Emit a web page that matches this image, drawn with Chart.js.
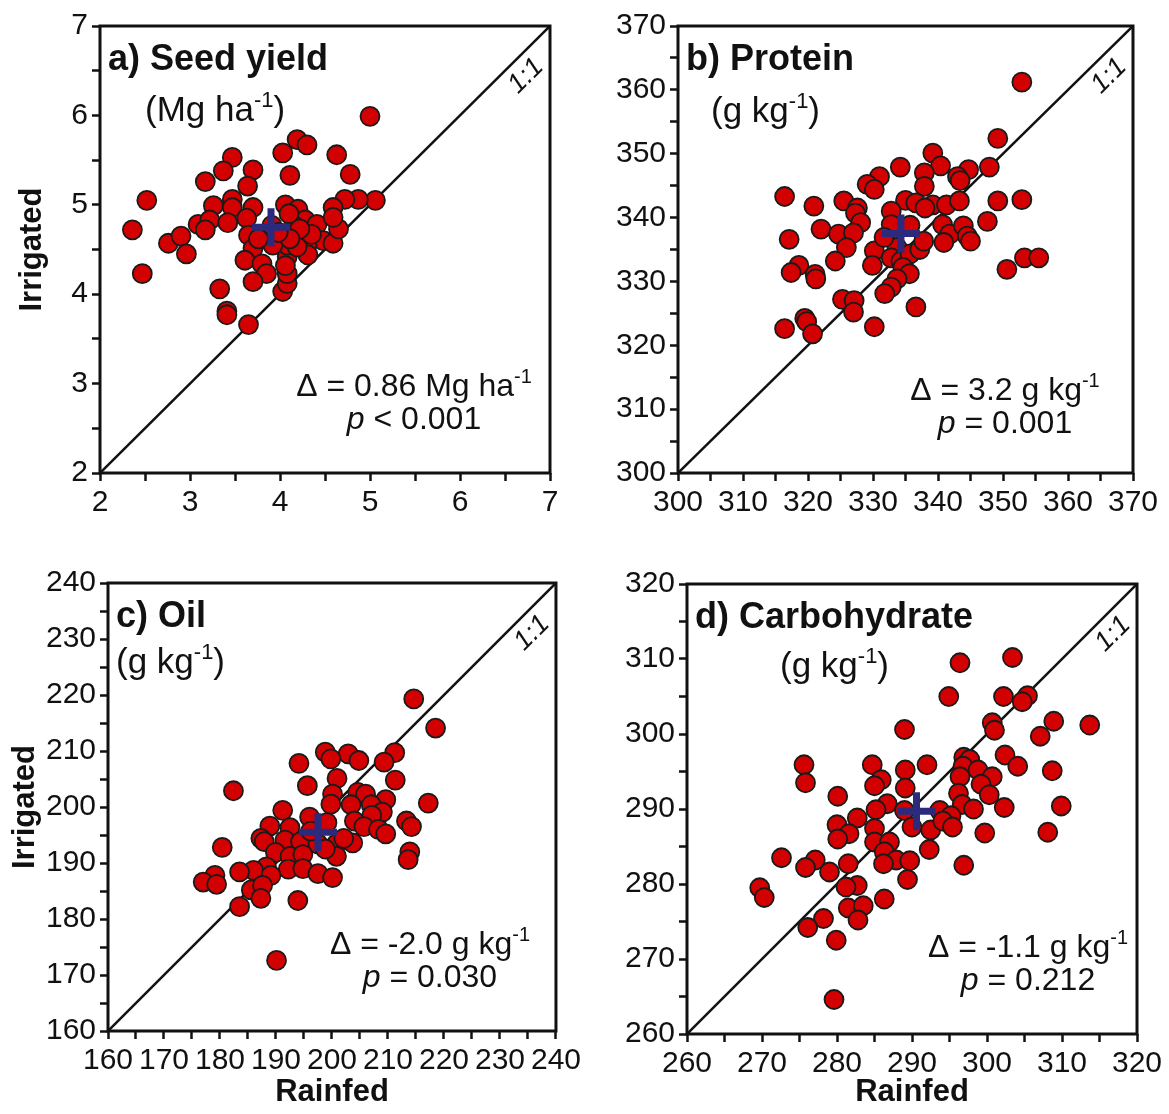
<!DOCTYPE html>
<html>
<head>
<meta charset="utf-8">
<script src="https://cdn.jsdelivr.net/npm/chart.js@4.4.1/dist/chart.umd.min.js"></script>
<style>
  html, body { margin:0; padding:0; background:#fff; }
  #page { position:relative; width:1169px; height:1114px; overflow:hidden; }
  canvas { position:absolute; }
</style>
</head>
<body>
<div id="page">
  <canvas id="chartA" width="585" height="540" style="left:0;top:0"></canvas>
  <canvas id="chartB" width="579" height="540" style="left:590px;top:0"></canvas>
  <canvas id="chartC" width="585" height="574" style="left:0;top:540px"></canvas>
  <canvas id="chartD" width="579" height="574" style="left:590px;top:540px"></canvas>
</div>
<script>
// a) Seed yield (Mg ha-1)
const yieldRainfed   = [5.00,4.19,4.30,4.03,4.63,3.47,3.37,3.70,4.78,4.11,3.17,3.64,2.52,5.06,4.87,4.72,2.36,2.76,2.90,2.96,2.47,3.26,3.47,3.47,3.09,3.22,3.17,3.42,3.70,3.63,3.65,3.70,3.61,3.80,3.85,3.70,3.33,3.41,3.41,3.65,4.03,4.08,4.08,4.08,4.08,4.06,3.91,4.20,4.28,4.15,4.41,4.48,4.59,4.65,4.59,4.59,4.30,4.31,4.19,3.92,4.35,4.22,4.11,3.98,3.76,4.06,4.10];
const yieldIrrigated = [5.99,5.73,5.67,5.58,5.56,5.53,5.38,5.39,5.34,5.33,5.26,5.21,5.05,5.05,5.06,5.06,4.72,4.57,4.65,4.45,4.23,4.99,5.06,4.97,4.78,4.83,4.72,4.80,4.97,4.85,4.66,4.51,4.38,4.34,4.23,4.14,4.06,3.81,3.77,3.66,4.03,4.12,4.23,4.42,4.55,5.00,4.77,4.95,4.83,4.77,4.78,4.60,4.57,4.73,4.97,4.86,4.55,4.44,4.53,4.55,4.67,4.73,4.62,4.69,4.62,4.32,4.90];
const yieldMean  = [3.90, 4.75];
const yieldRange = [2, 7];

// b) Protein (g kg-1)
const proteinRainfed   = [352.9,349.2,339.2,340.4,334.2,347.9,337.9,344.7,343.0,343.4,331.0,337.9,329.1,330.2,316.4,352.9,349.2,320.9,325.5,327.6,335.0,336.6,339.2,341.3,343.3,338.0,332.8,327.3,322.0,328.1,317.1,324.7,327.0,347.6,340.7,341.8,340.9,343.9,344.5,345.0,325.9,324.2,330.2,329.9,318.6,317.4,321.1,321.2,332.8,332.8,333.7,332.8,334.3,335.7,337.2,335.7,337.8,331.7,334.6,335.6,333.7,332.8,331.8,350.6,353.3,355.5,325.3,327.1,327.0,336.6,319.5,319.8,316.4,320.7,330.2];
const proteinIrrigated = [361.2,352.4,350.1,348.1,347.9,347.9,347.0,347.5,346.4,345.8,346.4,344.9,345.2,344.4,343.3,342.8,342.6,341.8,342.6,341.5,342.7,342.3,342.0,342.0,342.6,341.5,341.0,340.7,338.2,339.2,336.6,337.4,337.6,339.4,338.9,337.4,336.1,338.7,337.1,336.3,335.3,333.2,334.8,332.5,332.5,331.4,331.1,330.4,337.4,338.9,335.3,333.7,333.2,334.3,335.0,338.8,336.3,336.9,332.2,331.2,330.4,329.1,328.1,331.9,333.7,333.7,327.2,327.0,325.2,326.0,324.2,323.7,322.6,321.8,322.9];
const proteinMean  = [334.3, 337.5];
const proteinRange = [300, 370];

// c) Oil (g kg-1)
const oilRainfed   = [214.6,218.5,198.8,202.9,211.2,199.8,204.8,194.1,209.3,200.9,211.3,195.6,182.4,200.1,204.6,206.0,199.8,203.4,209.6,217.2,191.2,196.0,207.0,209.0,204.0,207.1,213.3,214.2,205.7,208.3,209.6,188.9,192.5,199.1,187.3,187.9,180.4,191.6,194.4,197.5,200.8,203.7,189.9,192.5,194.8,200.8,213.9,213.6,188.3,186.0,183.5,192.2,194.8,197.5,200.1,189.1,179.1,177.0,179.4,185.6,187.6,187.3,183.5,193.9,190.1,196.2,198.8,202.1];
const oilIrrigated = [219.3,214.1,209.8,209.5,209.7,208.6,208.3,207.8,208.0,205.1,204.8,203.8,202.9,202.3,202.6,202.3,200.5,200.4,201.3,200.7,199.4,198.2,200.4,199.1,197.5,198.5,197.5,196.5,196.5,196.0,195.2,196.6,196.3,197.2,194.4,193.8,192.8,194.1,193.8,193.4,193.4,193.6,191.9,191.2,191.5,191.2,192.0,190.6,189.3,188.7,188.4,188.9,189.0,188.1,187.4,187.8,187.8,186.6,186.2,185.2,186.0,183.7,182.2,183.3,172.6,195.7,192.5,194.4];
const oilMean  = [197.5, 195.5];
const oilRange = [160, 240];

// d) Carbohydrate (g kg-1)
const carbRainfed   = [303.4,296.4,294.9,302.2,305.4,304.7,300.7,301.0,308.9,313.7,289.0,307.1,302.4,304.1,296.9,297.7,296.8,298.8,308.7,275.6,275.8,284.7,289.1,292.0,296.4,300.7,299.2,285.9,285.0,289.1,296.2,300.3,280.1,296.7,302.3,309.9,286.7,285.2,289.0,293.7,298.2,295.2,282.7,280.0,285.0,290.0,292.5,294.1,295.4,299.7,308.1,281.6,280.1,285.0,287.0,286.3,292.3,272.6,277.1,275.8,281.5,287.9,289.7,286.2,296.9,279.0,289.4,282.7,281.2,269.7,270.3,286.3,281.5,283.5,282.8,278.2,276.1,279.9,279.6];
const carbIrrigated = [310.2,309.5,305.0,305.0,305.1,304.3,301.5,300.5,301.7,301.2,300.6,299.7,297.2,295.7,296.9,296.6,295.7,295.2,295.1,295.9,293.5,295.9,295.2,295.9,294.3,294.3,293.3,293.9,293.1,292.8,292.1,291.9,291.7,290.6,290.2,290.4,290.7,289.9,289.8,289.8,290.0,289.1,288.8,287.9,287.4,287.6,287.2,288.4,287.6,286.8,286.9,286.7,286.0,285.6,285.6,284.3,284.6,283.5,283.2,282.2,282.7,283.2,283.1,282.7,282.5,281.6,280.6,279.8,279.6,279.5,278.2,278.0,276.8,277.1,275.2,275.4,274.2,272.5,264.6];
const carbMean  = [290.6, 289.7];
const carbRange = [260, 320];

const FONT = "'Liberation Sans', Arial, sans-serif";
const INK  = '#111';

Chart.defaults.font.family = FONT;
Chart.defaults.color = INK;

// draws a row of text pieces (for superscripts / italic p)
const drawRuns = (ctx, runs, x, y, align) => {
  const widths = runs.map(r => { ctx.font = r.font; return ctx.measureText(r.text).width; });
  const total = widths.reduce((a, b) => a + b, 0);
  let cx = align === 'center' ? x - total / 2 : x;
  runs.forEach((r, i) => {
    ctx.font = r.font;
    ctx.fillText(r.text, cx, y - (r.rise || 0));
    cx += widths[i];
  });
};

const unitFont = `35px ${FONT}`;
const unitSup  = `22px ${FONT}`;
const noteFont = `32px ${FONT}`;
const noteSup  = `20px ${FONT}`;

const notesPlugin = (p) => ({
  id: 'notes',
  afterDraw(chart) {
    const { ctx, chartArea: { left, top, right, bottom } } = chart;
    ctx.save();
    ctx.strokeStyle = INK;
    ctx.lineWidth = 3;
    ctx.strokeRect(left, top, right - left, bottom - top);

    ctx.fillStyle = INK;
    ctx.textAlign = 'left';
    ctx.textBaseline = 'alphabetic';
    drawRuns(ctx, [{ text: p.title, font: `bold 36px ${FONT}` }], left + 8, top + 44, 'left');
    drawRuns(ctx, [
      { text: p.unit, font: unitFont },
      { text: '-1', font: unitSup, rise: 14 },
      { text: ')', font: unitFont }
    ], left + p.unitX, top + p.unitY, 'left');

    const cx = right - p.noteX;
    drawRuns(ctx, [
      { text: p.delta, font: noteFont },
      { text: '-1', font: noteSup, rise: 13 }
    ], cx, top + p.noteY, 'center');
    drawRuns(ctx, [
      { text: 'p', font: `italic ${noteFont}` },
      { text: p.pText, font: noteFont }
    ], cx, top + p.noteY + 33, 'center');

    ctx.translate(right - 24, top + 50);
    ctx.rotate(-Math.PI / 4);
    ctx.font = `italic 27px ${FONT}`;
    ctx.textAlign = 'center';
    ctx.textBaseline = 'middle';
    ctx.fillText('1:1', 0, 0);
    ctx.restore();
  }
});

const panels = [
  { id: 'chartA', xs: yieldRainfed, ys: yieldIrrigated, mean: yieldMean, range: yieldRange, step: 0.5, major: 1,
    yw: 100, xh: 67, padTop: 22, padRight: 35, yTitle: 14, xTitle: false,
    title: 'a) Seed yield', unit: '(Mg ha', unitX: 45, unitY: 95,
    delta: 'Δ = 0.86 Mg ha', pText: ' < 0.001', noteX: 136, noteY: 370 },
  { id: 'chartB', xs: proteinRainfed, ys: proteinIrrigated, mean: proteinMean, range: proteinRange, step: 5, major: 10,
    yw: 88, xh: 67, padTop: 22, padRight: 36, yTitle: null, xTitle: false,
    title: 'b) Protein', unit: '(g kg', unitX: 33, unitY: 96,
    delta: 'Δ = 3.2 g kg', pText: ' = 0.001', noteX: 128, noteY: 374 },
  { id: 'chartC', xs: oilRainfed, ys: oilIrrigated, mean: oilMean, range: oilRange, step: 5, major: 10,
    yw: 108, xh: 83, padTop: 43, padRight: 27, yTitle: 7, xTitle: true,
    title: 'c) Oil', unit: '(g kg', unitX: 8, unitY: 90,
    delta: 'Δ = -2.0 g kg', pText: ' = 0.030', noteX: 126, noteY: 371 },
  { id: 'chartD', xs: carbRainfed, ys: carbIrrigated, mean: carbMean, range: carbRange, step: 5, major: 10,
    yw: 97, xh: 80, padTop: 44, padRight: 32, yTitle: null, xTitle: true,
    title: 'd) Carbohydrate', unit: '(g kg', unitX: 93, unitY: 93,
    delta: 'Δ = -1.1 g kg', pText: ' = 0.212', noteX: 109, noteY: 373 }
];

const axisOpts = (p, isX) => ({
  type: 'linear',
  min: p.range[0],
  max: p.range[1],
  afterFit: (s) => { if (isX) s.height = p.xh; else s.width = p.yw; },
  ticks: {
    stepSize: p.step,
    autoSkip: false,
    maxRotation: 0,
    color: INK,
    padding: 4,
    font: { size: 30 },
    callback: (v) => Math.abs(v / p.major - Math.round(v / p.major)) < 1e-6 ? v : ''
  },
  grid: { drawOnChartArea: false, drawTicks: true, tickLength: 8, tickWidth: 2.5, tickColor: INK },
  border: { display: false },
  title: isX
    ? { display: p.xTitle, text: 'Rainfed', color: INK, font: { size: 31, weight: 'bold' }, padding: { top: 0, bottom: 3 } }
    : { display: p.yTitle !== null, text: 'Irrigated', color: INK, font: { size: 31, weight: 'bold' }, padding: { top: p.yTitle || 0, bottom: 0 } }
});

panels.forEach((p) => {
  new Chart(document.getElementById(p.id), {
    type: 'scatter',
    data: {
      datasets: [
        { data: [{ x: p.mean[0], y: p.mean[1] }], pointStyle: 'cross', pointRadius: 19, borderWidth: 7,
          borderColor: '#2b2a7c', backgroundColor: '#2b2a7c', order: 0 },
        { data: p.xs.map((x, i) => ({ x, y: p.ys[i] })), pointRadius: 9.5, borderWidth: 1.8,
          backgroundColor: '#d20000', borderColor: '#1a1a1a', order: 1 },
        { type: 'line', data: [{ x: p.range[0], y: p.range[0] }, { x: p.range[1], y: p.range[1] }],
          borderColor: INK, borderWidth: 2.5, pointRadius: 0, fill: false, order: 2 }
      ]
    },
    options: {
      responsive: false,
      animation: false,
      devicePixelRatio: 1,
      events: [],
      layout: { padding: { top: p.padTop, right: p.padRight, left: 0, bottom: 0 } },
      plugins: { legend: { display: false }, tooltip: { enabled: false } },
      scales: { x: axisOpts(p, true), y: axisOpts(p, false) }
    },
    plugins: [notesPlugin(p)]
  });
});
</script>
</body>
</html>
